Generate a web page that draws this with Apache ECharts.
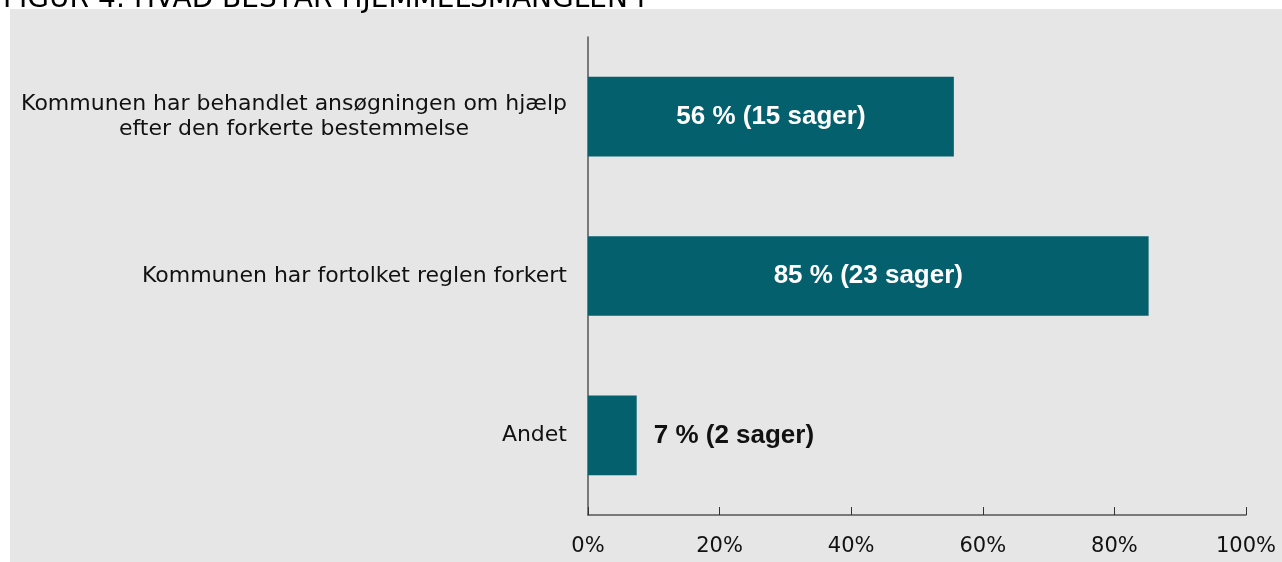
<!DOCTYPE html>
<html>
<head>
<meta charset="utf-8">
<script src="https://cdn.jsdelivr.net/npm/echarts@6/dist/echarts.min.js"></script>
<style>
  html, body { margin: 0; padding: 0; background: #ffffff; }
  #chart { width: 1282px; height: 562px; }
</style>
</head>
<body>
<div id="chart"></div>
<script>
// data
var categories = [
  "Kommunen har behandlet ansøgningen om hjælp\nefter den forkerte bestemmelse",
  "Kommunen har fortolket reglen forkert",
  "Andet"
];
var percents = [55.6, 85.2, 7.4];
var cases = [15, 23, 2];
var tickLabels = ["0%", "20%", "40%", "60%", "80%", "100%"];

var chart = echarts.init(document.getElementById("chart"));

chart.setOption({
  backgroundColor: "#ffffff",
  animation: false,
  title: {
    text: "FIGUR 4: HVAD BESTÅR HJEMMELSMANGLEN I",
    left: -2,
    top: -19,
    textStyle: {
      fontFamily: "DejaVu Sans",
      fontSize: 28,
      fontWeight: "normal",
      color: "#000"
    }
  },
  graphic: [
    {
      type: "rect",
      z: -10,
      shape: { x: 10, y: 9, width: 1272, height: 553 },
      style: { fill: "#e6e6e6" }
    }
  ],
  grid: { left: 588, right: 36, top: 37, bottom: 47 },
  xAxis: {
    type: "value",
    min: 0,
    max: 100,
    interval: 20,
    axisLine: { show: true, lineStyle: { color: "#555", width: 1.5 } },
    axisTick: { show: true, inside: true, length: 8, lineStyle: { color: "#333" } },
    splitLine: { show: false },
    axisLabel: {
      margin: 21,
      fontFamily: "DejaVu Sans",
      fontSize: 21,
      color: "#111",
      formatter: function (v) { return tickLabels[Math.round(v / 20)]; }
    }
  },
  yAxis: {
    type: "category",
    inverse: true,
    data: categories,
    axisLine: { show: true, lineStyle: { color: "#555", width: 1.5 } },
    axisTick: { show: false },
    axisLabel: {
      margin: 21,
      color: "#111",
      formatter: function (v) {
        return v.split("\n").map(function (l) { return "{c|" + l + "}"; }).join("\n");
      },
      rich: {
        c: {
          align: "center",
          fontFamily: "DejaVu Sans",
          fontSize: 22,
          lineHeight: 25,
          color: "#111"
        }
      }
    }
  },
  series: [
    {
      type: "bar",
      barWidth: "50%",
      itemStyle: { color: "#05606e" },
      data: percents.map(function (p, i) {
        var inside = p > 20;
        return {
          value: p,
          label: {
            show: true,
            position: inside ? "inside" : "right",
            distance: 17,
            formatter: Math.round(p) + " % (" + cases[i] + " sager)",
            fontFamily: "Liberation Sans",
            fontWeight: "bold",
            fontSize: 26,
            color: inside ? "#ffffff" : "#111111"
          }
        };
      })
    }
  ]
});
</script>
</body>
</html>
